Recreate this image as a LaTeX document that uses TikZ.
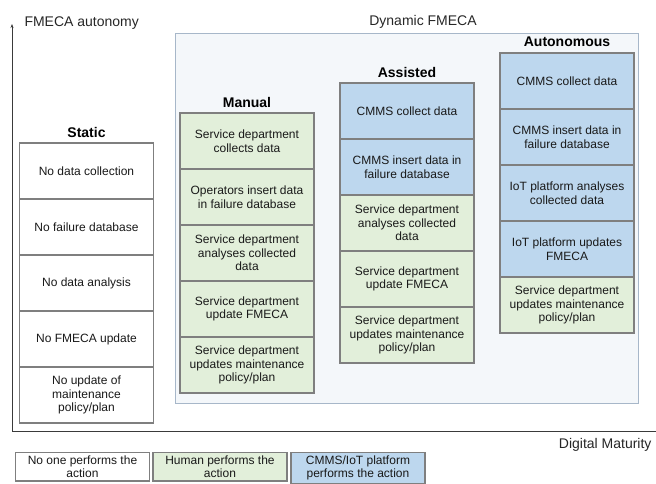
\documentclass[tikz,border=0pt]{standalone}
\usepackage{fontspec}
\setmainfont{Liberation Sans}
\usetikzlibrary{arrows.meta}

\definecolor{humangreen}{HTML}{E2EFDA}
\definecolor{iotblue}{HTML}{BDD7EE}
\definecolor{cellgrey}{HTML}{7F7F7F}
\definecolor{dynfill}{HTML}{F4F7FA}
\definecolor{dynline}{HTML}{A7B7C9}
\definecolor{axisgrey}{HTML}{3A3A3A}

\tikzset{
	cell/.style={draw=cellgrey, line width=1.2pt, minimum width=134pt, minimum height=56pt, inner sep=1pt, align=center, text=black!90, font=\fontsize{12}{13.5}\selectfont},
	nonecell/.style={cell, fill=white},
	humancell/.style={cell, fill=humangreen},
	iotcell/.style={cell, fill=iotblue},
	legendcell/.style={minimum height=0pt, inner ysep=3pt, anchor=north},
	coltitle/.style={font=\fontsize{14}{16}\selectfont\bfseries},
	axislabel/.style={font=\fontsize{14}{16}\selectfont, text=black!85},
	axisline/.style={draw=axisgrey, line width=0.9pt},
}

\begin{document}
\begin{tikzpicture}[x=1pt, y=-1pt]
		%%%%% START %%%%%
		\clip (0,0) rectangle (656,483);
		
		% axes
		\coordinate (origin) at (12,431);
		\coordinate (ytop) at (12,24);
		\coordinate (xend) at (657,431);
		\draw[axisline, -{Stealth[length=4pt, width=3pt]}] (origin) -- (ytop);
		\draw[axisline] (origin) -- (xend);
		\node[axislabel, anchor=west] (autonomy) at (21,23) {FMECA autonomy};
		\node[axislabel, anchor=east] (maturity) at (655,445) {Digital Maturity};
		
		% dynamic panel
		\draw[draw=dynline, fill=dynfill, line width=0.9pt] (175,33) rectangle (638,403);
		\node[axislabel] (dynamic) at (423,22) {Dynamic FMECA};
		
		% static
		\node[coltitle] (static) at (86.5,132) {Static};
		\node[nonecell] (s1) at (86.5,171) {No data collection};
		\node[nonecell] (s2) at (86.5,227) {No failure database};
		\node[nonecell] (s3) at (86.5,283) {No data analysis};
		\node[nonecell] (s4) at (86.5,339) {No FMECA update};
		\node[nonecell] (s5) at (86.5,395) {No update of\\maintenance\\policy/plan};
		
		% manual
		\node[coltitle] (manual) at (247,102) {Manual};
		\node[humancell] (m1) at (247,141) {Service department\\collects data};
		\node[humancell] (m2) at (247,197) {Operators insert data\\in failure database};
		\node[humancell] (m3) at (247,253) {Service department\\analyses collected\\data};
		\node[humancell] (m4) at (247,309) {Service department\\update FMECA};
		\node[humancell] (m5) at (247,365) {Service department\\updates maintenance\\policy/plan};
		
		% assisted
		\node[coltitle] (assisted) at (407,72) {Assisted};
		\node[iotcell] (a1) at (407,111) {CMMS collect data};
		\node[iotcell] (a2) at (407,167) {CMMS insert data in\\failure database};
		\node[humancell] (a3) at (407,223) {Service department\\analyses collected\\data};
		\node[humancell] (a4) at (407,279) {Service department\\update FMECA};
		\node[humancell] (a5) at (407,335) {Service department\\updates maintenance\\policy/plan};
		
		% autonomous
		\node[coltitle] (autonomous) at (567,42) {Autonomous};
		\node[iotcell] (u1) at (567,81) {CMMS collect data};
		\node[iotcell] (u2) at (567,137) {CMMS insert data in\\failure database};
		\node[iotcell] (u3) at (567,193) {IoT platform analyses\\collected data};
		\node[iotcell] (u4) at (567,249) {IoT platform updates\\FMECA};
		\node[humancell] (u5) at (567,305) {Service department\\updates maintenance\\policy/plan};
		
		% legend
		\node[nonecell, legendcell] (nobody) at (82.5,452) {No one performs the\\action};
		\node[humancell, legendcell] (human) at (220,452) {Human performs the\\action};
		\node[iotcell, legendcell] (platform) at (358,452) {CMMS/IoT platform\\performs the action};
		
		%%%%% END %%%%%
\end{tikzpicture}
\end{document}
